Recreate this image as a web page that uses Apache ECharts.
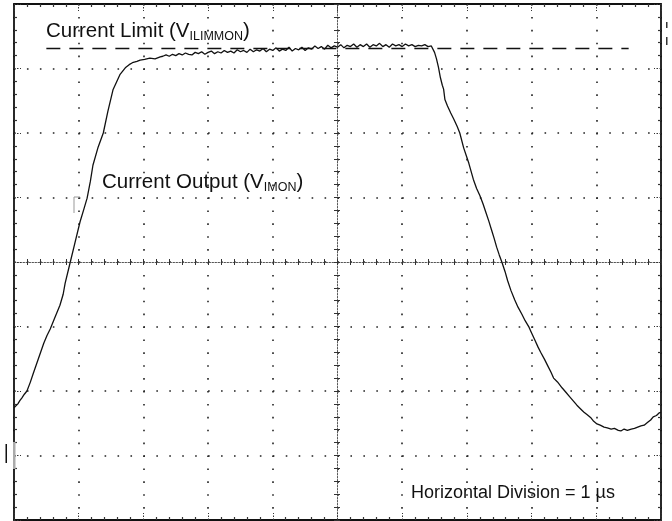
<!DOCTYPE html>
<html>
<head>
<meta charset="utf-8">
<script src="https://cdn.jsdelivr.net/npm/echarts@6/dist/echarts.min.js"></script>
<style>
html,body{margin:0;padding:0;background:#fff;}
#chart{width:672px;height:521px;}
</style>
</head>
<body>
<div id="chart"></div>
<script>
// Axis ranges in divisions
const xRange = [0, 10];
const yRange = [0, 8];

// Current limit reference (dashed)
const limitLevel = 7.31;
const limitSpan = [0.5, 9.5];

// Current output waveform: [time (div), level (div)]
const riseTrace = [
  [0.00,1.74],[0.03,1.77],[0.06,1.80],[0.09,1.85],[0.12,1.89],[0.16,1.95],[0.20,2.00],
  [0.25,2.13],[0.30,2.28],[0.37,2.48],[0.46,2.74],[0.51,2.86],[0.56,2.96],[0.64,3.16],
  [0.71,3.33],[0.76,3.50],[0.79,3.67],[0.87,4.00],[0.94,4.29],[1.02,4.62],[1.08,4.82],
  [1.13,4.99],[1.18,5.25],[1.22,5.50],[1.30,5.78],[1.38,6.00],[1.45,6.33],[1.53,6.67],
  [1.58,6.78],[1.64,6.91],[1.72,7.01],[1.78,7.06],[1.83,7.09],[1.90,7.11],[1.95,7.13],
  [2.02,7.14],[2.10,7.16],[2.18,7.15],[2.26,7.18]
];
const plateauTrace = [
  [2.30,7.19],[2.35,7.21],[2.40,7.19],[2.45,7.22],[2.50,7.20],[2.55,7.23],[2.60,7.21],
  [2.65,7.24],[2.70,7.22],[2.75,7.21],[2.80,7.25],[2.85,7.23],[2.90,7.26],[2.95,7.22],
  [3.00,7.25],[3.05,7.27],[3.10,7.23],[3.15,7.26],[3.20,7.24],[3.25,7.28],[3.30,7.25],
  [3.35,7.27],[3.40,7.24],[3.45,7.29],[3.50,7.26],[3.55,7.28],[3.60,7.25],[3.65,7.30],
  [3.70,7.26],[3.75,7.29],[3.80,7.27],[3.85,7.31],[3.90,7.26],[3.95,7.30],[4.00,7.28],
  [4.05,7.32],[4.10,7.27],[4.15,7.30],[4.20,7.28],[4.25,7.33],[4.30,7.27],[4.35,7.31],
  [4.40,7.29],[4.45,7.33],[4.50,7.28],[4.55,7.32],[4.60,7.30],[4.65,7.35],[4.70,7.31],
  [4.75,7.34],[4.80,7.30],[4.85,7.36],[4.90,7.32],[4.95,7.35],[5.00,7.33],[5.05,7.37],
  [5.10,7.32],[5.15,7.36],[5.20,7.34],[5.25,7.38],[5.30,7.33],[5.35,7.37],[5.40,7.34],
  [5.45,7.38],[5.50,7.33],[5.55,7.37],[5.60,7.35],[5.65,7.39],[5.70,7.34],[5.75,7.37],
  [5.80,7.33],[5.85,7.38],[5.90,7.35],[5.95,7.37],[6.00,7.34],[6.05,7.38],[6.10,7.35],
  [6.15,7.37],[6.20,7.34],[6.25,7.36],[6.30,7.35],[6.35,7.37],[6.40,7.34],[6.45,7.35],
  [6.48,7.34]
];
const fallTrace = [
  [6.50,7.25],[6.53,7.15],[6.56,7.02],[6.59,6.86],[6.62,6.74],[6.64,6.68],[6.66,6.52],
  [6.70,6.42],[6.75,6.31],[6.80,6.21],[6.85,6.10],[6.89,6.00],[6.95,5.77],[7.00,5.62],
  [7.03,5.53],[7.10,5.28],[7.15,5.14],[7.20,5.03],[7.25,4.90],[7.29,4.78],[7.34,4.63],
  [7.38,4.50],[7.42,4.37],[7.46,4.23],[7.50,4.11],[7.54,4.00],[7.59,3.85],[7.63,3.71],
  [7.68,3.56],[7.74,3.41],[7.79,3.30],[7.85,3.19],[7.90,3.09],[7.96,2.99],[8.00,2.90],
  [8.05,2.79],[8.10,2.68],[8.14,2.60],[8.20,2.49],[8.25,2.39],[8.30,2.29],[8.34,2.20],
  [8.40,2.14],[8.47,2.05],[8.53,1.98],[8.59,1.91],[8.65,1.84],[8.70,1.78],[8.75,1.73],
  [8.81,1.67],[8.86,1.63],[8.92,1.58],[8.96,1.53],[9.01,1.49],[9.06,1.47],[9.12,1.44],
  [9.17,1.43],[9.23,1.41],[9.28,1.42],[9.34,1.39],[9.38,1.38],[9.43,1.41],[9.48,1.39],
  [9.54,1.41],[9.59,1.42],[9.64,1.44],[9.69,1.46],[9.74,1.47],[9.79,1.51],[9.84,1.55],
  [9.88,1.60],[9.93,1.62],[9.97,1.66],[10.00,1.67]
];

const waveData = riseTrace.concat(plateauTrace, fallTrace);
const limitData = [[limitSpan[0], limitLevel], [limitSpan[1], limitLevel]];

const FONT = "'Liberation Sans', Arial, Helvetica, sans-serif";
const dotColor = '#333';

function frameAxis(extra) {
  return Object.assign({
    type: 'value',
    interval: 1,
    axisLabel: { show: false },
    splitLine: { show: false },
    axisLine: { show: true, onZero: false, lineStyle: { color: '#111', width: 1.8 } },
    axisTick: { show: true, inside: true, length: 7, lineStyle: { color: dotColor, width: 1, type: [1.5, 1.5] } },
    minorTick: { show: true, splitNumber: 5, length: 3, lineStyle: { color: dotColor, width: 1.2 } }
  }, extra);
}
function centerAxis(extra, inside) {
  return Object.assign({
    type: 'value',
    interval: 1,
    axisLabel: { show: false },
    splitLine: { show: false },
    axisLine: { show: inside, onZero: false, lineStyle: { color: '#555', width: 1, type: [1.5, 1.5] } },
    axisTick: { show: true, inside: inside, length: 3, lineStyle: { color: dotColor, width: 1 } },
    minorTick: { show: true, splitNumber: 5, length: 3, lineStyle: { color: dotColor, width: 1 } }
  }, extra);
}

const chart = echarts.init(document.getElementById('chart'), null, { renderer: 'canvas' });
chart.setOption({
  animation: false,
  backgroundColor: '#fff',
  grid: { left: 14, right: 11, top: 4, bottom: 1, show: false },
  xAxis: [
    frameAxis({ min: xRange[0], max: xRange[1], position: 'bottom',
      splitLine: { show: true, lineStyle: { color: '#222', width: 1.6, type: [1.6, 11.3] } } }),
    frameAxis({ min: xRange[0], max: xRange[1], position: 'top' }),
    centerAxis({ min: xRange[0], max: xRange[1], position: 'bottom', offset: -258 }, true),
    centerAxis({ min: xRange[0], max: xRange[1], position: 'bottom', offset: -258 }, false)
  ],
  yAxis: [
    frameAxis({ min: yRange[0], max: yRange[1], position: 'left',
      splitLine: { show: true, lineStyle: { color: '#222', width: 1.6, type: [1.6, 11.34] } } }),
    frameAxis({ min: yRange[0], max: yRange[1], position: 'right' }),
    centerAxis({ min: yRange[0], max: yRange[1], position: 'left', offset: -323 }, true),
    centerAxis({ min: yRange[0], max: yRange[1], position: 'left', offset: -323 }, false)
  ],
  series: [
    {
      type: 'line', name: 'Current Limit', data: limitData, xAxisIndex: 0, yAxisIndex: 0,
      showSymbol: false, silent: true, z: 3,
      lineStyle: { color: '#111', width: 1.5, type: [14, 9] }
    },
    {
      type: 'line', name: 'Current Output', data: waveData, xAxisIndex: 0, yAxisIndex: 0,
      showSymbol: false, silent: true, z: 4,
      lineStyle: { color: '#111', width: 1.3 }
    }
  ],
  graphic: [
    {
      type: 'text', left: 46, top: 21, z: 10,
      style: {
        text: '{m|Current Limit (V}{s|ILIMMON}{m|)}',
        rich: {
          m: { fontSize: 20.5, fontFamily: FONT, fill: '#111', lineHeight: 24, verticalAlign: 'middle' },
          s: { fontSize: 12.5, fontFamily: FONT, fill: '#111', lineHeight: 24, verticalAlign: 'bottom' }
        }
      }
    },
    {
      type: 'text', left: 102, top: 172, z: 10,
      style: {
        text: '{m|Current Output (V}{s|IMON}{m|)}',
        rich: {
          m: { fontSize: 20.5, fontFamily: FONT, fill: '#111', lineHeight: 24, verticalAlign: 'middle' },
          s: { fontSize: 12.5, fontFamily: FONT, fill: '#111', lineHeight: 24, verticalAlign: 'bottom' }
        }
      }
    },
    {
      type: 'text', left: 411, top: 484, z: 10,
      style: { text: 'Horizontal Division = 1 µs', fontSize: 18, fontFamily: FONT, fill: '#111' }
    },
    { type: 'rect', shape: { x: 13, y: 442, width: 2.5, height: 27 }, style: { fill: '#aaa' }, z: 20 },
    { type: 'rect', shape: { x: 5.5, y: 444, width: 1.5, height: 19 }, style: { fill: '#111' }, z: 20 },
    { type: 'rect', shape: { x: 666, y: 22, width: 1.5, height: 6 }, style: { fill: '#333' }, z: 20 },
    { type: 'rect', shape: { x: 666, y: 37, width: 1.5, height: 8 }, style: { fill: '#333' }, z: 20 },
    { type: 'polyline', shape: { points: [[74, 213], [74, 197], [80, 197]] }, style: { stroke: '#999', lineWidth: 1, fill: null }, z: 20 }
  ]
});
</script>
</body>
</html>
